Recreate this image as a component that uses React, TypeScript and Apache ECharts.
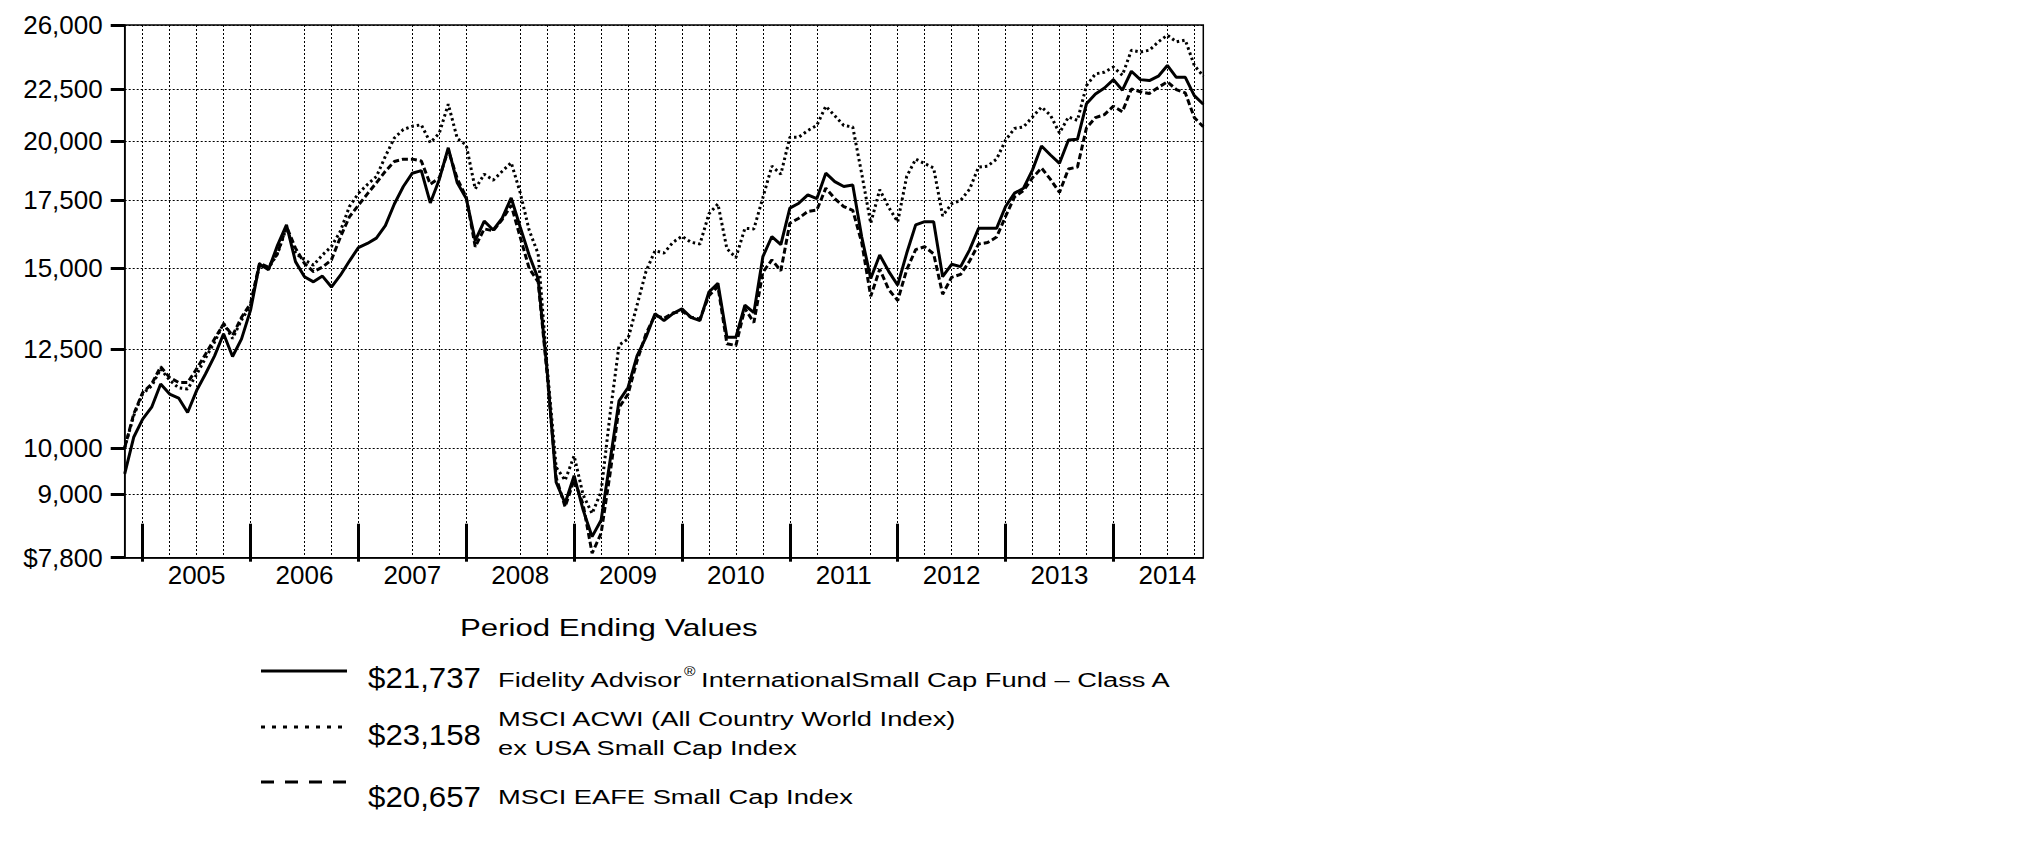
import React, { useEffect, useRef } from "react";
import * as echarts from "echarts";

const FONT = "'Liberation Sans', Arial, Helvetica, sans-serif";

// ---- categories: month ends Oct 2004 .. Oct 2014 ----
const monthNames = ["Jan", "Feb", "Mar", "Apr", "May", "Jun", "Jul", "Aug", "Sep", "Oct", "Nov", "Dec"];
const months: string[] = [];
for (let k = 0; k <= 120; k++) {
  const m = (9 + k) % 12;
  const y = 2004 + Math.floor((9 + k) / 12);
  months.push(`${monthNames[m]} ${y}`);
}
const hiddenGridMonths = ["Mar 2006", "Mar 2007", "Mar 2008", "Jun 2011"];

// ---- y-axis tick values ----
const yTicks = [7800, 9000, 10000, 12500, 15000, 17500, 20000, 22500, 26000];

// ---- series values ----
const fundValues = [
  9425, 10240, 10670, 10960, 11550, 11290, 11190, 10830, 11380, 11820,
  12310, 12940, 12290, 12790, 13650, 15150, 14950, 15800, 16550, 15230,
  14720, 14550, 14740, 14380, 14770, 15250, 15720, 15870, 16060, 16520,
  17350, 18050, 18600, 18710, 17390, 18340, 19700, 18200, 17570, 15970,
  16690, 16360, 16800, 17590, 16470, 15450, 14650, 11900, 9250, 8820,
  9390, 8690, 8180, 8490, 9710, 11120, 11460, 12310, 12840, 13540,
  13330, 13540, 13690, 13430, 13330, 14220, 14500, 12840, 12840, 13800,
  13570, 15400, 16120, 15830, 17190, 17380, 17710, 17560, 18600, 18250,
  18050, 18110, 16100, 14660, 15460, 14900, 14440, 15520, 16550, 16670,
  16670, 14720, 15140, 15060, 15640, 16420, 16420, 16420, 17250, 17780,
  17980, 18740, 19780, 19380, 19020, 20050, 20080, 21760, 22250, 22550,
  22980, 22440, 23420, 22980, 22930, 23160, 23730, 23100, 23100, 22160, 21737,
];

const acwiValues = [
  10000, 10750, 11300, 11500, 11950, 11650, 11450, 11420, 11800, 12250,
  12700, 13250, 12800, 13350, 13800, 15100, 15000, 15500, 16450, 15520,
  15290, 15110, 15460, 15760, 16320, 17250, 17770, 18130, 18460, 19320,
  20140, 20530, 20680, 20750, 19930, 20360, 21740, 20120, 19820, 17950,
  18560, 18310, 18680, 19050, 17800, 16350, 15500, 12000, 9570, 9290,
  9820, 8990, 8620, 9050, 10790, 12610, 12790, 13800, 14900, 15610,
  15530, 15910, 16130, 15910, 15850, 16970, 17350, 15680, 15370, 16420,
  16400, 17600, 18900, 18560, 20170, 20180, 20480, 20720, 21640, 21180,
  20720, 20650, 18570, 16610, 17920, 17220, 16660, 18460, 19200, 19010,
  18820, 16890, 17360, 17490, 17940, 18860, 18900, 19200, 20040, 20580,
  20650, 21120, 21600, 21200, 20370, 21120, 20960, 22670, 23280, 23370,
  23640, 23210, 24560, 24460, 24560, 25030, 25410, 25030, 25130, 23730, 23158,
];

const eafeValues = [
  10000, 10790, 11330, 11550, 12010, 11720, 11590, 11590, 11950, 12360,
  12790, 13230, 12890, 13430, 13850, 15170, 15040, 15520, 16490, 15700,
  15170, 14890, 15040, 15290, 16100, 16850, 17300, 17750, 18200, 18680,
  19100, 19200, 19200, 19120, 18140, 18400, 19600, 18370, 17620, 15750,
  16400, 16330, 16750, 17300, 16100, 15000, 14550, 11800, 9350, 8750,
  9300, 8800, 7880, 8240, 9430, 10950, 11290, 12170, 12940, 13490,
  13400, 13560, 13620, 13430, 13380, 14100, 14400, 12650, 12600, 13700,
  13270, 14870, 15290, 14920, 16610, 16800, 17060, 17110, 17980, 17560,
  17250, 17100, 15900, 14080, 14970, 14300, 13950, 14950, 15650, 15750,
  15500, 14150, 14700, 14800, 15250, 15850, 15900, 16100, 16870, 17630,
  17880, 18410, 18820, 18340, 17810, 18780, 18860, 20600, 21090, 21230,
  21640, 21370, 22500, 22360, 22270, 22580, 22870, 22470, 22300, 21090, 20657,
];

// ---- legend texts ----
const legendTitle = "Period Ending Values";
const legendValues = ["$21,737", "$23,158", "$20,657"];

const isYearTick = (i: number) => months[i].startsWith("Dec");
const isYearLabel = (i: number) => months[i].startsWith("Jun");
const isGrid = (i: number) => {
  const m = months[i].slice(0, 3);
  return (m === "Mar" || m === "Jun" || m === "Sep" || m === "Dec") && !hiddenGridMonths.includes(months[i]);
};

const DESC_SCALE = 1.3;

function txt(x: number, y: number, text: string, fontSize: number, scaleX: number) {
  return {
    type: "text",
    x,
    y,
    scaleX,
    scaleY: 1,
    style: {
      text,
      x: 0,
      y: 0,
      fontSize,
      fontFamily: FONT,
      fill: "#000",
      align: "left",
      textAlign: "left",
      verticalAlign: "middle",
      textVerticalAlign: "middle",
    },
  };
}

function lineEl(y: number, dash: number[] | null) {
  return {
    type: "line",
    shape: { x1: 261, y1: y, x2: 347, y2: y },
    style: { stroke: "#000", lineWidth: 3, lineDash: dash || undefined, lineCap: "butt" },
  };
}

export default function App() {
  const ref = useRef<HTMLDivElement>(null);
  useEffect(() => {
    if (!ref.current) return;
    const chart = echarts.init(ref.current, undefined, { renderer: "svg" });
    const descSize = 21;
    const option: any = {
      animation: false,
      backgroundColor: "#fff",
      grid: {
        left: 124.7,
        top: 25,
        width: 1078.6,
        height: 532.7,
        show: true,
        borderColor: "#000",
        borderWidth: 1.5,
        backgroundColor: "transparent",
      },
      xAxis: [
        {
          type: "category",
          data: months,
          boundaryGap: false,
          axisLine: { show: true, lineStyle: { color: "#000", width: 1.5 } },
          axisTick: {
            show: true,
            inside: true,
            length: 34,
            interval: (i: number) => isYearTick(i),
            lineStyle: { color: "#000", width: 3 },
          },
          axisLabel: {
            show: true,
            interval: (i: number) => isYearLabel(i),
            formatter: (v: string) => v.slice(-4),
            fontSize: 26,
            fontFamily: FONT,
            color: "#000",
            margin: 4,
          },
          splitLine: {
            show: true,
            interval: (i: number) => isGrid(i),
            lineStyle: { color: "#000", width: 1, type: [2, 2] },
          },
        },
        {
          type: "category",
          data: months,
          boundaryGap: false,
          position: "bottom",
          gridIndex: 0,
          axisLine: { show: false },
          axisTick: {
            show: true,
            inside: false,
            length: 4,
            interval: (i: number) => isYearTick(i),
            lineStyle: { color: "#000", width: 3 },
          },
          axisLabel: { show: false },
          splitLine: { show: false },
        },
      ],
      yAxis: {
        type: "log",
        logBase: 10,
        min: 7800,
        max: 26000,
        axisLine: { show: true, lineStyle: { color: "#000", width: 1.5 } },
        axisTick: {
          show: true,
          length: 14,
          customValues: yTicks,
          lineStyle: { color: "#000", width: 3 },
        },
        axisLabel: {
          show: true,
          customValues: yTicks,
          fontSize: 26,
          fontFamily: FONT,
          color: "#000",
          margin: 22,
          formatter: (v: number) => {
            const t = yTicks.reduce((a, b) => (Math.abs(b - v) < Math.abs(a - v) ? b : a));
            return (t === yTicks[0] ? "$" : "") + t.toLocaleString("en-US");
          },
        },
        splitLine: {
          show: true,
          lineStyle: { color: "#000", width: 1, type: [2, 2] },
        },
      },
      series: [
        {
          name: "MSCI ACWI ex USA Small Cap Index",
          type: "line",
          data: acwiValues,
          showSymbol: false,
          symbol: "none",
          lineStyle: { color: "#000", width: 3, type: [2.5, 3] },
          z: 3,
        },
        {
          name: "MSCI EAFE Small Cap Index",
          type: "line",
          data: eafeValues,
          showSymbol: false,
          symbol: "none",
          lineStyle: { color: "#000", width: 3, type: [6, 3] },
          z: 4,
        },
        {
          name: "Fidelity Advisor International Small Cap Fund - Class A",
          type: "line",
          data: fundValues,
          showSymbol: false,
          symbol: "none",
          lineStyle: { color: "#000", width: 3 },
          z: 5,
        },
      ],
      graphic: [
        txt(460, 628, legendTitle, 24, 1.3),
        lineEl(671, null),
        txt(368, 677, legendValues[0], 29.5, 1.06),
        txt(498, 680, "Fidelity Advisor", descSize, DESC_SCALE),
        txt(498 + 6.779 * descSize * DESC_SCALE + 1, 672, "®", 12, DESC_SCALE),
        txt(498 + 6.779 * descSize * DESC_SCALE + 18, 680, "InternationalSmall Cap Fund – Class A", descSize, DESC_SCALE),
        lineEl(727, [4, 7]),
        txt(368, 734, legendValues[1], 29.5, 1.06),
        txt(498, 719, "MSCI ACWI (All Country World Index)", descSize, DESC_SCALE),
        txt(498, 747.5, "ex USA Small Cap Index", descSize, DESC_SCALE),
        lineEl(782, [13, 11]),
        txt(368, 796, legendValues[2], 29.5, 1.06),
        txt(498, 797, "MSCI EAFE Small Cap Index", descSize, DESC_SCALE),
      ],
    };
    chart.setOption(option);
    return () => chart.dispose();
  }, []);
  return (
    <div
      ref={ref}
      style={{ position: "absolute", left: 0, top: 0, width: 2025, height: 851, background: "#fff" }}
    />
  );
}
